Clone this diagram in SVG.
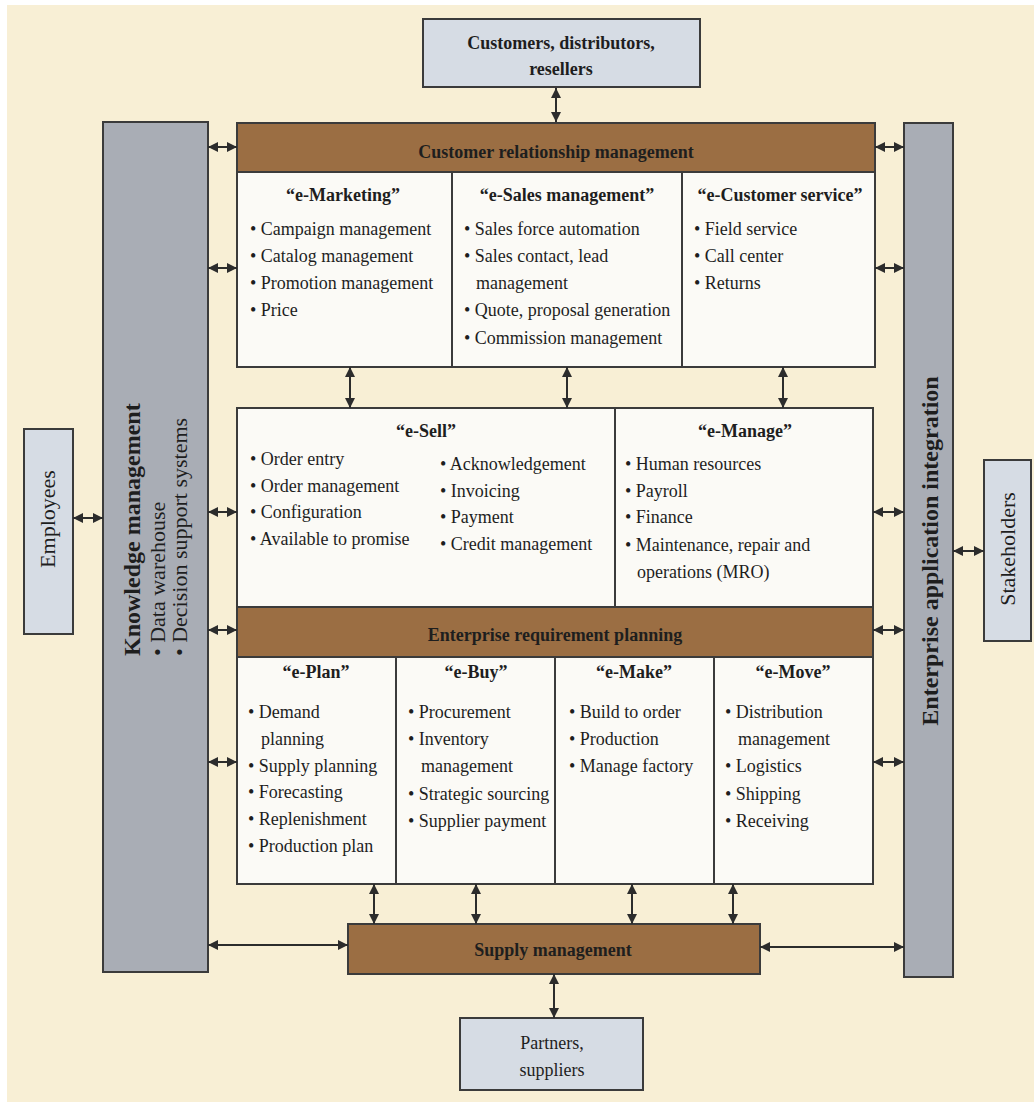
<svg xmlns="http://www.w3.org/2000/svg" width="1034" height="1102" viewBox="0 0 1034 1102">
  <style>
    .bg { fill: #f8efd5; }
    .grey { fill: #a9adb5; stroke: #3b3b3b; stroke-width: 2; }
    .pale { fill: #d6dce4; stroke: #3b3b3b; stroke-width: 2; }
    .brown { fill: #9b6e43; stroke: #3b3b3b; stroke-width: 2; }
    .white { fill: #fbfaf6; stroke: #3b3b3b; stroke-width: 2; }
    .div { stroke: #3b3b3b; stroke-width: 2; fill: none; }
    text { font-family: "Liberation Serif", "Times New Roman", serif; font-size: 18px; fill: #1e1e1e; }
    .b { font-weight: bold; }
    .c { text-anchor: middle; }
    .side { font-size: 22px; }
    .side-b { font-size: 24px; font-weight: bold; }
    .conn line { stroke: #2c2c2c; stroke-width: 2; marker-start: url(#head); marker-end: url(#head); }
  </style>
  <defs>
    <marker id="head" markerUnits="userSpaceOnUse" markerWidth="12" markerHeight="12" refX="10" refY="6" orient="auto-start-reverse">
      <path d="M0,1 L10,6 L0,11 z" fill="#2c2c2c"/>
    </marker>
  </defs>

  <rect class="bg" x="0" y="0" width="1034" height="1102"/>
  <rect x="0" y="0" width="1034" height="5" fill="#ffffff"/>
  <rect x="0" y="0" width="7" height="1102" fill="#ffffff"/>

  <!-- outer parties -->
  <g id="customers">
    <rect class="pale" x="423" y="19" width="277" height="68"/>
    <text class="b c" x="561" y="49">Customers, distributors,</text>
    <text class="b c" x="561" y="75">resellers</text>
  </g>
  <g id="employees">
    <rect class="pale" x="24" y="429" width="49" height="205"/>
    <text class="side c" transform="translate(55,519) rotate(-90)">Employees</text>
  </g>
  <g id="stakeholders">
    <rect class="pale" x="984" y="460" width="47" height="181"/>
    <text class="side c" transform="translate(1015,549) rotate(-90)">Stakeholders</text>
  </g>
  <g id="partners">
    <rect class="pale" x="460" y="1018" width="183" height="72"/>
    <text class="c" x="552" y="1049">Partners,</text>
    <text class="c" x="552" y="1076">suppliers</text>
  </g>

  <!-- side columns -->
  <g id="knowledge-management">
    <rect class="grey" x="103" y="122" width="105" height="850"/>
    <text class="side-b" transform="translate(140,656) rotate(-90)">Knowledge management</text>
    <text class="side" transform="translate(165,656) rotate(-90)">• Data warehouse</text>
    <text class="side" transform="translate(187,656) rotate(-90)">• Decision support systems</text>
  </g>
  <g id="enterprise-application-integration">
    <rect class="grey" x="904" y="123" width="49" height="854"/>
    <text class="side-b c" transform="translate(938,551) rotate(-90)">Enterprise application integration</text>
  </g>

  <!-- customer relationship management -->
  <g id="crm">
    <rect class="brown" x="237" y="123" width="638" height="49"/>
    <text class="b c" x="556" y="158">Customer relationship management</text>
  </g>
  <g id="crm-modules">
    <rect class="white" x="237" y="172" width="638" height="195"/>
    <line class="div" x1="452" y1="172" x2="452" y2="367"/>
    <line class="div" x1="682" y1="172" x2="682" y2="367"/>
  </g>
  <g id="e-marketing">
    <text class="b c" x="343" y="201">“e-Marketing”</text>
    <text x="250" y="235">• Campaign management</text>
    <text x="250" y="262">• Catalog management</text>
    <text x="250" y="289">• Promotion management</text>
    <text x="250" y="316">• Price</text>
  </g>
  <g id="e-sales-management">
    <text class="b c" x="567" y="201">“e-Sales management”</text>
    <text x="464" y="235">• Sales force automation</text>
    <text x="464" y="262">• Sales contact, lead</text>
    <text x="476" y="289">management</text>
    <text x="464" y="316">• Quote, proposal generation</text>
    <text x="464" y="344">• Commission management</text>
  </g>
  <g id="e-customer-service">
    <text class="b c" x="780" y="201">“e-Customer service”</text>
    <text x="694" y="235">• Field service</text>
    <text x="694" y="262">• Call center</text>
    <text x="694" y="289">• Returns</text>
  </g>

  <!-- sell / manage -->
  <g id="sell-manage">
    <rect class="white" x="237" y="408" width="636" height="199"/>
    <line class="div" x1="615" y1="408" x2="615" y2="607"/>
  </g>
  <g id="e-sell">
    <text class="b c" x="426" y="437">“e-Sell”</text>
    <text x="250" y="465">• Order entry</text>
    <text x="250" y="492">• Order management</text>
    <text x="250" y="518">• Configuration</text>
    <text x="250" y="545">• Available to promise</text>
    <text x="440" y="470">• Acknowledgement</text>
    <text x="440" y="497">• Invoicing</text>
    <text x="440" y="523">• Payment</text>
    <text x="440" y="550">• Credit management</text>
  </g>
  <g id="e-manage">
    <text class="b c" x="745" y="437">“e-Manage”</text>
    <text x="625" y="470">• Human resources</text>
    <text x="625" y="497">• Payroll</text>
    <text x="625" y="523">• Finance</text>
    <text x="625" y="551">• Maintenance, repair and</text>
    <text x="637" y="578">operations (MRO)</text>
  </g>

  <!-- enterprise requirement planning -->
  <g id="erp">
    <rect class="brown" x="237" y="607" width="636" height="50"/>
    <text class="b c" x="555" y="641">Enterprise requirement planning</text>
  </g>
  <g id="erp-modules">
    <rect class="white" x="237" y="657" width="636" height="227"/>
    <line class="div" x1="396" y1="657" x2="396" y2="884"/>
    <line class="div" x1="555" y1="657" x2="555" y2="884"/>
    <line class="div" x1="714" y1="657" x2="714" y2="884"/>
  </g>
  <g id="e-plan">
    <text class="b c" x="316" y="678">“e-Plan”</text>
    <text x="248" y="718">• Demand</text>
    <text x="261" y="745">planning</text>
    <text x="248" y="772">• Supply planning</text>
    <text x="248" y="798">• Forecasting</text>
    <text x="248" y="825">• Replenishment</text>
    <text x="248" y="852">• Production plan</text>
  </g>
  <g id="e-buy">
    <text class="b c" x="476" y="678">“e-Buy”</text>
    <text x="408" y="718">• Procurement</text>
    <text x="408" y="745">• Inventory</text>
    <text x="421" y="772">management</text>
    <text x="408" y="800">• Strategic sourcing</text>
    <text x="408" y="827">• Supplier payment</text>
  </g>
  <g id="e-make">
    <text class="b c" x="634" y="678">“e-Make”</text>
    <text x="569" y="718">• Build to order</text>
    <text x="569" y="745">• Production</text>
    <text x="569" y="772">• Manage factory</text>
  </g>
  <g id="e-move">
    <text class="b c" x="793" y="678">“e-Move”</text>
    <text x="725" y="718">• Distribution</text>
    <text x="738" y="745">management</text>
    <text x="725" y="772">• Logistics</text>
    <text x="725" y="800">• Shipping</text>
    <text x="725" y="827">• Receiving</text>
  </g>

  <!-- supply management -->
  <g id="supply-management">
    <rect class="brown" x="348" y="924" width="412" height="50"/>
    <text class="b c" x="553" y="956">Supply management</text>
  </g>

  <!-- two-way connectors -->
  <g id="connectors" class="conn">
    <line x1="556" y1="88" x2="556" y2="122"/>
    <line x1="73" y1="518" x2="103" y2="518"/>
    <line x1="953" y1="551" x2="984" y2="551"/>
    <line x1="208" y1="147" x2="237" y2="147"/>
    <line x1="208" y1="268" x2="237" y2="268"/>
    <line x1="208" y1="512" x2="237" y2="512"/>
    <line x1="208" y1="630" x2="237" y2="630"/>
    <line x1="208" y1="762" x2="237" y2="762"/>
    <line x1="208" y1="945" x2="348" y2="945"/>
    <line x1="875" y1="147" x2="904" y2="147"/>
    <line x1="875" y1="268" x2="904" y2="268"/>
    <line x1="873" y1="512" x2="904" y2="512"/>
    <line x1="873" y1="630" x2="904" y2="630"/>
    <line x1="873" y1="762" x2="904" y2="762"/>
    <line x1="760" y1="947" x2="904" y2="947"/>
    <line x1="350" y1="367" x2="350" y2="408"/>
    <line x1="567" y1="367" x2="567" y2="408"/>
    <line x1="783" y1="367" x2="783" y2="408"/>
    <line x1="374" y1="884" x2="374" y2="924"/>
    <line x1="476" y1="884" x2="476" y2="924"/>
    <line x1="632" y1="884" x2="632" y2="924"/>
    <line x1="733" y1="884" x2="733" y2="924"/>
    <line x1="554" y1="974" x2="554" y2="1018"/>
  </g>
</svg>
